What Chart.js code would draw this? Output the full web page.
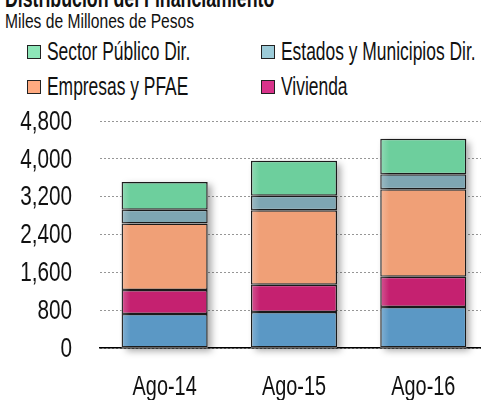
<!DOCTYPE html>
<html>
<head>
<meta charset="utf-8">
<script src="https://cdn.jsdelivr.net/npm/chart.js@4.4.1/dist/chart.umd.min.js"></script>
<style>
    html, body { margin: 0; padding: 0; background: #fff; }
    body { width: 481px; height: 400px; overflow: hidden; position: relative; font-family: 'Liberation Sans', Arial, sans-serif; color: #111; }
    .squeeze { position: absolute; white-space: nowrap; transform-origin: 0 0; }
    #title { left: 5px; top: -14px; font-size: 25px; line-height: 25px; font-weight: bold; transform: scaleX(0.71); }
    #subtitle { left: 5px; top: 11px; font-size: 20px; line-height: 20px; transform: scaleX(0.78); }
    .legend-item { position: absolute; }
    .legend-item .box { position: absolute; left: 0; top: 0; width: 12px; height: 12px; border: 1.5px solid #222; }
    .legend-item .txt { left: 20px; top: -7px; font-size: 26px; line-height: 26px; transform: scaleX(0.67); }
    #chart { position: absolute; left: 0; top: 0; }
</style>
</head>
<body>
<div id="title" class="squeeze">Distribución del Financiamiento</div>
<div id="subtitle" class="squeeze">Miles de Millones de Pesos</div>
<div id="legend"></div>
<canvas id="chart" width="490" height="400"></canvas>
<script>
// data (miles de millones de pesos)
const categories = ['Ago-14', 'Ago-15', 'Ago-16'];
const consumo = [718, 760, 865];
const vivienda = [506, 576, 640];
const empresas = [1406, 1577, 1851];
const estados = [295, 308, 316];
const sectorPublico = [585, 739, 752];
const yTicks = [0, 800, 1600, 2400, 3200, 4000, 4800];

const FONT = "'Liberation Sans', Arial, sans-serif";

// bottom to top of each stack
const series = [
    { label: 'Consumo', data: consumo, color: '#5b98c5', legend: null },
    { label: 'Vivienda', data: vivienda, color: '#c52170', legend: '#d8338a' },
    { label: 'Empresas y PFAE', data: empresas, color: '#f0a077', legend: '#ffaa80' },
    { label: 'Estados y Municipios Dir.', data: estados, color: '#7ea6b2', legend: '#9ccbd8' },
    { label: 'Sector Público Dir.', data: sectorPublico, color: '#6dcf9d', legend: '#8de6b8' }
];

// legend: 2 columns, 2 rows (box top-left corners)
const legendSlots = {
    'Sector Público Dir.': [27, 45],
    'Estados y Municipios Dir.': [261, 45],
    'Empresas y PFAE': [27, 80],
    'Vivienda': [261, 80]
};
const legendDiv = document.getElementById('legend');
series.forEach(s => {
    if (!s.legend) return;
    const pos = legendSlots[s.label];
    const item = document.createElement('div');
    item.className = 'legend-item';
    item.style.left = pos[0] + 'px';
    item.style.top = pos[1] + 'px';
    item.innerHTML = `<span class="box" style="background:${s.legend}"></span><span class="txt squeeze">${s.label}</span>`;
    legendDiv.appendChild(item);
});

// soft drop shadow behind each full stack
const stackShadow = {
    id: 'stackShadow',
    beforeDatasetsDraw(chart) {
        const ctx = chart.ctx;
        const first = chart.getDatasetMeta(0).data;
        const last = chart.getDatasetMeta(chart.data.datasets.length - 1).data;
        ctx.save();
        ctx.shadowColor = 'rgba(0,0,0,0.35)';
        ctx.shadowBlur = 7;
        ctx.shadowOffsetX = 4;
        ctx.shadowOffsetY = 3;
        ctx.fillStyle = '#ffffff';
        first.forEach((bar, i) => {
            const top = last[i];
            const w = bar.width;
            ctx.fillRect(bar.x - w / 2, top.y, w, bar.base - top.y);
        });
        ctx.restore();
    },
    // faint light edge on the left of each bar
    afterDatasetsDraw(chart) {
        const ctx = chart.ctx;
        const first = chart.getDatasetMeta(0).data;
        const last = chart.getDatasetMeta(chart.data.datasets.length - 1).data;
        ctx.save();
        first.forEach((bar, i) => {
            const left = bar.x - bar.width / 2 + 1;
            const g = ctx.createLinearGradient(left, 0, left + 8, 0);
            g.addColorStop(0, 'rgba(255,255,255,0.22)');
            g.addColorStop(1, 'rgba(255,255,255,0)');
            ctx.fillStyle = g;
            ctx.fillRect(left, last[i].y + 1, 8, bar.base - last[i].y - 2);
        });
        ctx.restore();
    }
};

// tick labels in a narrow face: no condensed font installed, so squeeze horizontally
const narrowTicks = {
    id: 'narrowTicks',
    afterDraw(chart) {
        const ctx = chart.ctx;
        const xs = chart.scales.x, ys = chart.scales.y;
        ctx.save();
        ctx.fillStyle = '#111';

        ctx.font = '28px ' + FONT;
        ctx.textAlign = 'right';
        ctx.textBaseline = 'middle';
        ys.ticks.forEach(t => {
            ctx.save();
            ctx.translate(72, ys.getPixelForValue(t.value) + 1);
            ctx.scale(0.74, 1);
            ctx.fillText(t.value.toLocaleString('en-US'), 0, 0);
            ctx.restore();
        });

        ctx.textAlign = 'center';
        ctx.textBaseline = 'alphabetic';
        categories.forEach((c, i) => {
            ctx.save();
            ctx.translate(xs.getPixelForValue(i), 395);
            ctx.scale(0.71, 1);
            ctx.fillText(c, 0, 0);
            ctx.restore();
        });
        ctx.restore();
    }
};

new Chart(document.getElementById('chart'), {
    type: 'bar',
    data: {
        labels: categories,
        datasets: series.map(s => ({
            label: s.label,
            data: s.data,
            backgroundColor: s.color,
            borderColor: '#1a1a1a',
            borderWidth: 1.5,
            borderSkipped: false,
            categoryPercentage: 1,
            barPercentage: 0.666
        }))
    },
    options: {
        responsive: false,
        animation: false,
        layout: { padding: { top: 121, right: 2, bottom: 0, left: 0 } },
        plugins: {
            legend: { display: false },
            tooltip: { enabled: false }
        },
        scales: {
            x: {
                stacked: true,
                z: 1,
                grid: { display: false, drawTicks: false },
                border: { display: true, color: '#000', width: 1.5 },
                ticks: { display: false },
                afterFit: scale => { scale.height = 52; }
            },
            y: {
                stacked: true,
                min: 0,
                max: 4800,
                z: 1,
                afterBuildTicks: scale => { scale.ticks = yTicks.map(v => ({ value: v })); },
                grid: { color: 'rgba(80,80,80,0.6)', lineWidth: 1, drawTicks: false },
                border: { display: false, dash: [2, 2] },
                ticks: { display: false },
                afterFit: scale => { scale.width = 100; }
            }
        }
    },
    plugins: [stackShadow, narrowTicks]
});
</script>
</body>
</html>
